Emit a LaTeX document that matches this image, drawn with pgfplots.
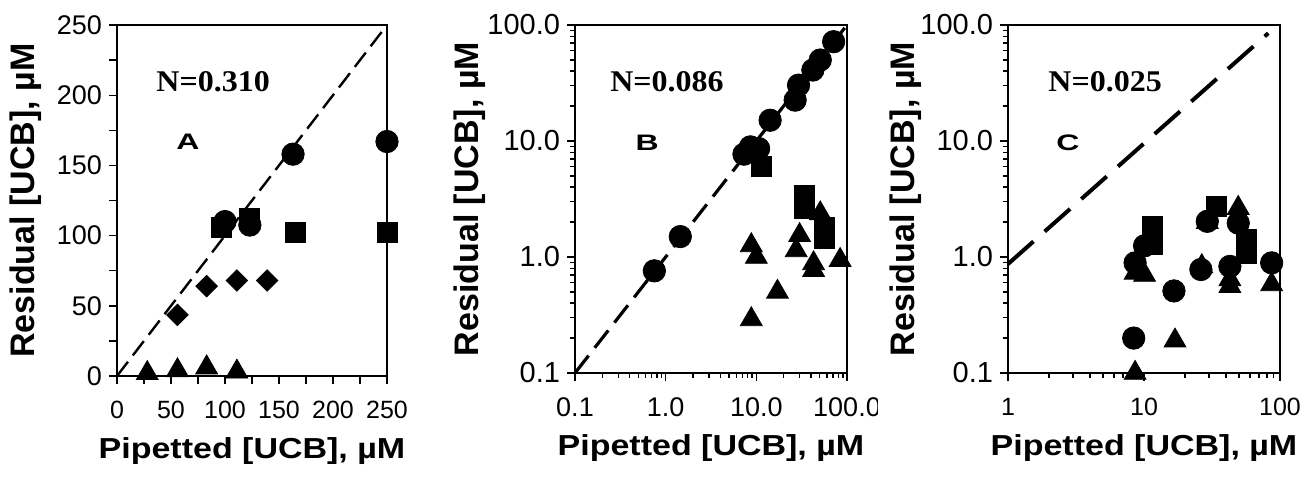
\documentclass[border=0pt]{standalone}
\usepackage{fontspec}
\setmainfont{Liberation Sans}
\newfontfamily\tnr{Liberation Serif}
\usepackage{graphicx}
\usepackage{pgfplots}
\pgfplotsset{compat=1.18}

% shared look of the three panels
\pgfplotsset{
  panel/.style={
    scale only axis,
    anchor=south west,
    clip=false,
    axis line style={line width=0.8pt},
    tick style={line width=0.7pt, black},
    tick align=outside,
    tick pos=left,
    major tick length=4pt,
    minor tick length=2.5pt,
    /pgf/number format/assume math mode=true,
    yticklabel style={font=\fontsize{13.5}{13.5}\selectfont},
    xticklabel style={font=\fontsize{12.5}{12.5}\selectfont, yshift=-5pt},
    xlabel={\scalebox{1}[0.85]{\bfseries Pipetted [UCB], µM}},
    ylabel={\bfseries Residual [UCB], µM},
    xlabel style={font=\fontsize{17}{17}\selectfont, at={(axis description cs:0.5,-0.215)}, anchor=center},
    ylabel style={font=\fontsize{17}{17}\selectfont, anchor=center},
  },
  circ/.style={only marks, mark=*, mark size=5.6pt, black},
  sq/.style={only marks, mark=square*, mark size=5pt, black},
  tri/.style={only marks, mark=triangle*, mark size=6.3pt, black},
  dia/.style={only marks, mark=square*, mark size=3.8pt, black, mark options={rotate=45}},
}
\tikzset{
  ntext/.style={font=\tnr\bfseries\fontsize{16}{16}\selectfont},
  ltext/.style={font=\bfseries\fontsize{16}{16}\selectfont},
}

\begin{document}
\begin{tikzpicture}
\path[use as bounding box] (0,0) rectangle (653.5pt,238.5pt);

% ---- panel A ----
\begin{axis}[panel,
  at={(58.5pt,50.5pt)}, width=135pt, height=175.5pt,
  xmin=0, xmax=250, ymin=0, ymax=250,
  xtick={0,50,...,250}, minor xtick={25,75,...,225},
  ytick={0,50,...,250}, minor ytick={25,75,...,225},
  minor tick length=4pt,
  ylabel style={at={(axis description cs:-0.337,0.5)}},
]
\addplot[black, line width=1.2pt, dash pattern=on 9pt off 4pt] coordinates {(0,0) (250,250)};
\addplot[circ] coordinates {(100,110) (123,107.5) (163,158) (250,167)};
\addplot[sq] coordinates {(97,106) (123,112) (165,102) (250,102)};
\addplot[dia] coordinates {(56,43.5) (83,64) (111,68) (139,68)};
\addplot[tri] coordinates {(28,2) (56,4) (83,6) (111,3)};
\node[ntext] at (rel axis cs:0.356,0.838) {\scalebox{1}[0.94]{N=0.310}};
\node[ltext] at (rel axis cs:0.263,0.667) {\scalebox{1}[0.7]{A}};
\end{axis}

% ---- panel B (its right edge is cut, as in the original) ----
\begin{scope}
\clip (0,0) rectangle (438.5pt,238.5pt);
\begin{axis}[panel,
  at={(287.5pt,52pt)}, width=136pt, height=174pt,
  xmode=log, ymode=log,
  xmin=0.1, xmax=100, ymin=0.1, ymax=100,
  xtick={0.1,1,10,100}, xticklabels={0.1,1.0,10.0,100.0},
  ytick={0.1,1,10,100}, yticklabels={0.1,1.0,10.0,100.0},
  minor xtick={0.2,0.3,0.4,0.5,0.6,0.7,0.8,0.9,2,3,4,5,6,7,8,9,20,30,40,50,60,70,80,90},
  minor ytick={0.2,0.3,0.4,0.5,0.6,0.7,0.8,0.9,2,3,4,5,6,7,8,9,20,30,40,50,60,70,80,90},
  yticklabel style={font=\fontsize{14.5}{14.5}\selectfont},
  xticklabel style={font=\fontsize{13.5}{13.5}\selectfont},
  ylabel style={at={(axis description cs:-0.386,0.5)}},
]
\addplot[black, line width=1.6pt, dash pattern=on 11pt off 5pt] coordinates {(0.1,0.1) (100,100)};
\addplot[circ] coordinates {(0.75,0.76) (1.45,1.5) (7.3,7.7) (8.6,8.9) (10.6,8.6) (14.2,15.1)
  (26.8,22.5) (29.2,30.3) (42,40.9) (50.7,49.9) (71.2,71.8)};
\addplot[sq] coordinates {(11.5,6.0) (34,3.4) (34,2.6) (57,1.8) (57,1.45)};
\addplot[tri] coordinates {(8.8,1.26) (10,1.0) (8.8,0.29) (17.1,0.5) (27.5,1.14) (30,1.54)
  (42.8,0.88) (42.8,0.77) (50.7,2.37) (84,0.94)};
\node[ntext] at (rel axis cs:0.338,0.836) {\scalebox{1}[0.94]{N=0.086}};
\node[ltext] at (rel axis cs:0.265,0.661) {\scalebox{1}[0.7]{B}};
\end{axis}
\end{scope}

% ---- panel C ----
\begin{axis}[panel,
  at={(504pt,52pt)}, width=136pt, height=174pt,
  xmode=log, ymode=log,
  xmin=1, xmax=100, ymin=0.1, ymax=100,
  xtick={1,10,100}, xticklabels={1,10,100},
  ytick={0.1,1,10,100}, yticklabels={0.1,1.0,10.0,100.0},
  minor xtick={2,3,4,5,6,7,8,9,20,30,40,50,60,70,80,90},
  minor ytick={0.2,0.3,0.4,0.5,0.6,0.7,0.8,0.9,2,3,4,5,6,7,8,9,20,30,40,50,60,70,80,90},
  yticklabel style={font=\fontsize{14.5}{14.5}\selectfont},
  ylabel style={at={(axis description cs:-0.375,0.5)}},
]
\addplot[black, line width=2pt, dash pattern=on 17pt off 7.5pt] coordinates {(1,0.87) (82,85)};
\addplot[circ] coordinates {(8.6,0.89) (10.1,1.25) (8.4,0.2) (16.6,0.51) (26.2,0.78)
  (29.2,2.03) (42.8,0.83) (49.3,1.96) (86.8,0.89)};
\addplot[sq] coordinates {(11.5,1.84) (11.5,1.28) (34.2,2.73) (56.8,1.41) (56.8,1.08)};
\addplot[tri] coordinates {(8.6,0.73) (10.1,0.7) (8.6,0.1) (16.9,0.19) (26.6,0.83)
  (29.2,2.0) (42.8,0.64) (42.8,0.56) (49.3,2.64) (86.8,0.58)};
\node[ntext] at (rel axis cs:0.357,0.836) {\scalebox{1}[0.94]{N=0.025}};
\node[ltext] at (rel axis cs:0.22,0.661) {\scalebox{1}[0.7]{C}};
\end{axis}
\end{tikzpicture}
\end{document}
